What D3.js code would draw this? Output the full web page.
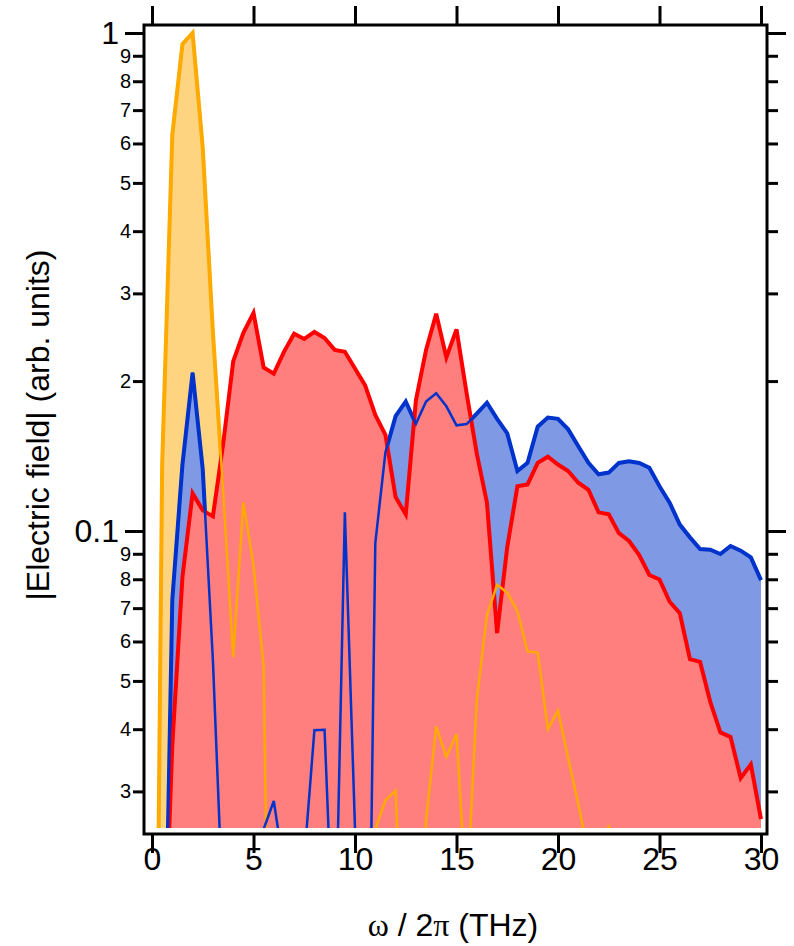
<!DOCTYPE html>
<html>
<head>
<meta charset="utf-8">
<script src="https://cdn.jsdelivr.net/npm/d3@7"></script>
<style>
  body { margin: 0; background: #fff; }
  svg { display: block; }
  text { font-family: "Liberation Sans", Arial, Helvetica, sans-serif; fill: #000; }
</style>
</head>
<body>
<script>
// frequency grid (THz), sampled every 0.5 THz
var freq = [0, 0.5, 1, 1.5, 2, 2.5, 3, 3.5, 4, 4.5, 5, 5.5, 6, 6.5, 7, 7.5, 8, 8.5, 9, 9.5,
            10, 10.5, 11, 11.5, 12, 12.5, 13, 13.5, 14, 14.5, 15, 15.5, 16, 16.5, 17, 17.5, 18, 18.5, 19, 19.5,
            20, 20.5, 21, 21.5, 22, 22.5, 23, 23.5, 24, 24.5, 25, 25.5, 26, 26.5, 27, 27.5, 28, 28.5, 29, 29.5, 30];

// |E| spectra
var orange = [0.001, 0.136, 0.624, 0.95, 1.0, 0.588, 0.251, 0.121, 0.0558, 0.114, 0.0855, 0.0533, 0.002, 0.002, 0.002, 0.002, 0.002, 0.002, 0.002, 0.002,
              0.002, 0.002, 0.0252, 0.0288, 0.0301, 0.01, 0.005, 0.0262, 0.0405, 0.0352, 0.0391, 0.018, 0.0458, 0.0678, 0.078, 0.0752, 0.069, 0.0573, 0.057, 0.040,
              0.0436, 0.035, 0.0283, 0.0225, 0.015, 0.0257, 0.015, 0.01, 0.005, 0.005, 0.005, 0.005, 0.005, 0.005, 0.005, 0.005, 0.005, 0.005, 0.005, 0.005, 0.005];

var blue = [0.001, 0.006, 0.0727, 0.136, 0.208, 0.133, 0.055, 0.017, 0.002, 0.002, 0.002, 0.0252, 0.0287, 0.021, 0.002, 0.0219, 0.0398, 0.0399, 0.0123, 0.109,
            0.0253, 0.003, 0.0946, 0.144, 0.170, 0.182, 0.164, 0.182, 0.189, 0.178, 0.163, 0.164, 0.172, 0.181, 0.168, 0.157, 0.132, 0.137, 0.162, 0.169,
            0.168, 0.160, 0.148, 0.137, 0.130, 0.131, 0.137, 0.138, 0.137, 0.134, 0.123, 0.114, 0.103, 0.0971, 0.092, 0.0917, 0.0899, 0.0933, 0.0913, 0.0885, 0.0797];

var red = [0.001, 0.0101, 0.0372, 0.0809, 0.119, 0.110, 0.107, 0.149, 0.219, 0.250, 0.274, 0.213, 0.207, 0.229, 0.249, 0.243, 0.251, 0.244, 0.231, 0.229,
           0.212, 0.196, 0.171, 0.156, 0.117, 0.108, 0.183, 0.231, 0.273, 0.223, 0.254, 0.189, 0.143, 0.114, 0.0624, 0.0929, 0.123, 0.124, 0.137, 0.141,
           0.136, 0.132, 0.125, 0.121, 0.109, 0.108, 0.099, 0.0955, 0.0895, 0.0816, 0.0799, 0.0721, 0.0684, 0.0553, 0.0546, 0.0454, 0.0394, 0.0386, 0.0319, 0.0340, 0.0264];

var xTicks = [0, 5, 10, 15, 20, 25, 30];
var yMajor = [0.1, 1];
var yMajorLabels = ["0.1", "1"];
var yMinor = [0.03, 0.04, 0.05, 0.06, 0.07, 0.08, 0.09, 0.2, 0.3, 0.4, 0.5, 0.6, 0.7, 0.8, 0.9];
var yMinorLabels = ["3", "4", "5", "6", "7", "8", "9", "2", "3", "4", "5", "6", "7", "8", "9"];

var W = 794, H = 946;
var frame = {left: 144, right: 767, top: 25, bottom: 834};
var plotBottom = 828;

var x = d3.scaleLinear().domain([0, 30]).range([152, 761]);
var y = d3.scaleLog().domain([0.02533, 1.0376]).range([plotBottom, 25]);

var svg = d3.select("body").append("svg")
            .attr("width", W)
            .attr("height", H);

svg.append("clipPath").attr("id", "clip")
   .append("rect")
   .attr("x", frame.left).attr("y", 0)
   .attr("width", frame.right - frame.left).attr("height", plotBottom);

var plot = svg.append("g").attr("clip-path", "url(#clip)");

function rows(vals) {
  return freq.map(function(f, i) { return {f: f, v: vals[i]}; });
}

var area = d3.area()
             .x(function(d) { return x(d.f); })
             .y0(plotBottom + 50)
             .y1(function(d) { return y(d.v); });

var line = d3.line()
             .x(function(d) { return x(d.f); })
             .y(function(d) { return y(d.v); });

var traces = [
  {vals: orange, line: "#ffaa00", fill: "#ffd480"},
  {vals: blue,   line: "#0033cc", fill: "#7f99e5"},
  {vals: red,    line: "#ff0000", fill: "#ff7f7f"}
];

// each trace: fill then thick line, drawn back to front
traces.forEach(function(t) {
  plot.append("path").datum(rows(t.vals))
      .attr("d", area)
      .attr("fill", t.fill);
  plot.append("path").datum(rows(t.vals))
      .attr("d", line)
      .attr("fill", "none")
      .attr("stroke", t.line)
      .attr("stroke-width", 4)
      .attr("stroke-linejoin", "miter");
});

// thin overlay lines for the orange and blue traces
[traces[0], traces[1]].forEach(function(t) {
  plot.append("path").datum(rows(t.vals))
      .attr("d", line)
      .attr("fill", "none")
      .attr("stroke", t.line)
      .attr("stroke-width", 2.5);
});

// frame
svg.append("rect")
   .attr("x", frame.left).attr("y", frame.top)
   .attr("width", frame.right - frame.left)
   .attr("height", frame.bottom - frame.top)
   .attr("fill", "none")
   .attr("stroke", "#000")
   .attr("stroke-width", 3);

function styleAxis(g, fontSize) {
  g.select(".domain").remove();
  g.selectAll(".tick line").attr("stroke", "#000").attr("stroke-width", 3);
  g.selectAll(".tick text").attr("font-size", fontSize)
   .attr("font-family", '"Liberation Sans", Arial, sans-serif');
}

// bottom axis
svg.append("g")
   .attr("transform", "translate(0," + frame.bottom + ")")
   .call(d3.axisBottom(x).tickValues(xTicks).tickSize(19).tickPadding(-6).tickFormat(d3.format("d")))
   .call(styleAxis, 32);

// top axis (ticks only)
svg.append("g")
   .attr("transform", "translate(0," + frame.top + ")")
   .call(d3.axisTop(x).tickValues(xTicks).tickSize(19).tickFormat(""))
   .call(styleAxis, 32);

// left axis
svg.append("g")
   .attr("transform", "translate(" + frame.left + ",0)")
   .call(d3.axisLeft(y).tickValues(yMajor).tickSize(19).tickPadding(6)
           .tickFormat(function(d, i) { return yMajorLabels[i]; }))
   .call(styleAxis, 32);

svg.append("g")
   .attr("transform", "translate(" + frame.left + ",0)")
   .call(d3.axisLeft(y).tickValues(yMinor).tickSize(11).tickPadding(2)
           .tickFormat(function(d, i) { return yMinorLabels[i]; }))
   .call(styleAxis, 20);

// right axis (ticks only)
svg.append("g")
   .attr("transform", "translate(" + frame.right + ",0)")
   .call(d3.axisRight(y).tickValues(yMajor).tickSize(19).tickFormat(""))
   .call(styleAxis, 32);

svg.append("g")
   .attr("transform", "translate(" + frame.right + ",0)")
   .call(d3.axisRight(y).tickValues(yMinor).tickSize(11).tickFormat(""))
   .call(styleAxis, 20);

// axis titles
var xt = svg.append("text")
            .attr("x", 453).attr("y", 936)
            .attr("text-anchor", "middle")
            .attr("font-size", 32);
xt.append("tspan").attr("font-family", '"Liberation Serif", "DejaVu Serif", serif').text("ω");
xt.append("tspan").text(" / 2");
xt.append("tspan").attr("font-family", '"Liberation Serif", "DejaVu Serif", serif').text("π");
xt.append("tspan").text(" (THz)");

svg.append("text")
   .attr("transform", "translate(49,425) rotate(-90)")
   .attr("text-anchor", "middle")
   .attr("font-size", 32)
   .text("|Electric field| (arb. units)");
</script>
</body>
</html>
